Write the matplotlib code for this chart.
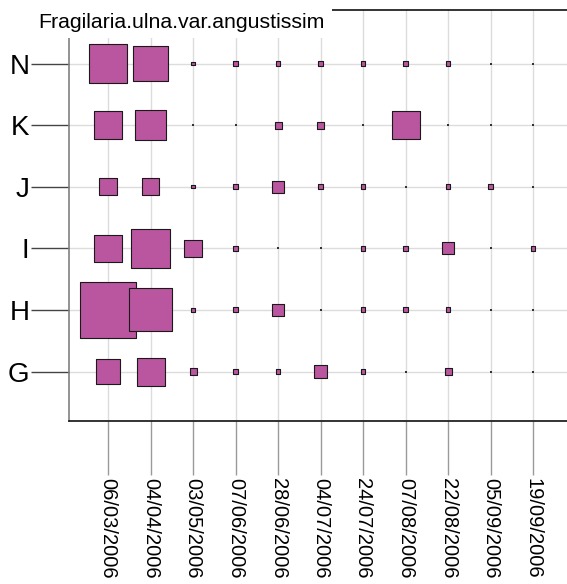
import numpy as np
import matplotlib.pyplot as plt
from matplotlib.patches import Rectangle

plt.rcParams['font.family'] = ['Liberation Sans', 'DejaVu Sans']

# sites (bottom to top) and sampling dates
sites = ['G', 'H', 'I', 'J', 'K', 'N']
dates = ['06/03/2006', '04/04/2006', '03/05/2006', '07/06/2006', '28/06/2006',
         '04/07/2006', '24/07/2006', '07/08/2006', '22/08/2006', '05/09/2006',
         '19/09/2006']
title = 'Fragilaria.ulna.var.angustissim'

# abundances (area ~ value)
abund_G = [50, 64, 4, 2, 2, 12, 2, 0, 4, 0, 0]
abund_H = [256, 150, 1, 2, 12, 0, 2, 2, 2, 0, 0]
abund_I = [62, 124, 24, 2, 0, 0, 2, 2, 12, 0, 2]
abund_J = [24, 24, 1, 2, 12, 2, 2, 0, 2, 2, 0]
abund_K = [62, 74, 0, 0, 4, 4, 0, 64, 0, 0, 0]
abund_N = [124, 100, 1, 2, 2, 2, 2, 2, 2, 0, 0]

table = np.array([abund_G, abund_H, abund_I, abund_J, abund_K, abund_N], dtype=float)

W, H, DPI = 567, 584, 100
fig = plt.figure(figsize=(W / DPI, H / DPI), dpi=DPI)

# plot frame (right side runs off the picture)
left, right, top, bottom = 69, 600, 10, 421
ax = fig.add_axes([left / W, (H - bottom) / H, (right - left) / W, (bottom - top) / H])

col_step, col0 = 42.5, 108
row_step, row0 = 61.6, 371.5
ax.set_xlim((left - col0) / col_step, (right - col0) / col_step)
ax.set_ylim(-(bottom - row0) / row_step, (row0 - top) / row_step)

# draw column by column so later dates sit on top
xx, yy = np.meshgrid(np.arange(len(dates)), np.arange(len(sites)))
xs = xx.T.ravel()
ys = yy.T.ravel()
vals = table.T.ravel()

side_px = 3.5 * np.sqrt(vals)
sizes = (side_px * 72 / DPI) ** 2
pos = vals > 0
ax.scatter(xs[pos], ys[pos], s=sizes[pos], marker='s', c='#ba55a0',
           edgecolors='#1a1a1a', linewidths=0.8, zorder=3)
ax.scatter(xs[~pos], ys[~pos], s=(1.2 * 72 / DPI) ** 2, marker='s',
           c='#333333', linewidths=0, zorder=3)

ax.set_xticks(range(len(dates)))
ax.set_xticklabels(dates)
ax.set_yticks(range(len(sites)))
ax.set_yticklabels(sites)

ax.set_axisbelow(True)
ax.grid(True, color='#dcdcdc', linewidth=1.0)

ax.tick_params(axis='y', length=38 * 0.72, width=1.0, color='#444444', pad=1,
               labelsize=20)
ax.tick_params(axis='x', length=54 * 0.72, width=1.0, color='#9a9a9a', pad=2,
               labelsize=14.5, labelrotation=-90)

ax.spines['left'].set_color('#808080')
ax.spines['left'].set_linewidth(1.2)
for side in ['bottom', 'top']:
    ax.spines[side].set_color('#111111')
    ax.spines[side].set_linewidth(1.2)
ax.spines['right'].set_visible(False)

# title label in a white box over the top-left corner
fig.add_artist(Rectangle((31 / W, 1 - 38 / H), (332 - 31) / W, (38 - 7) / H,
                         transform=fig.transFigure, fc='white', ec='none', zorder=5))
fig.text(181.5 / W, 1 - 23 / H, title, ha='center', va='center',
         fontsize=15.3, zorder=6)

fig.savefig('out.png', dpi=DPI)
